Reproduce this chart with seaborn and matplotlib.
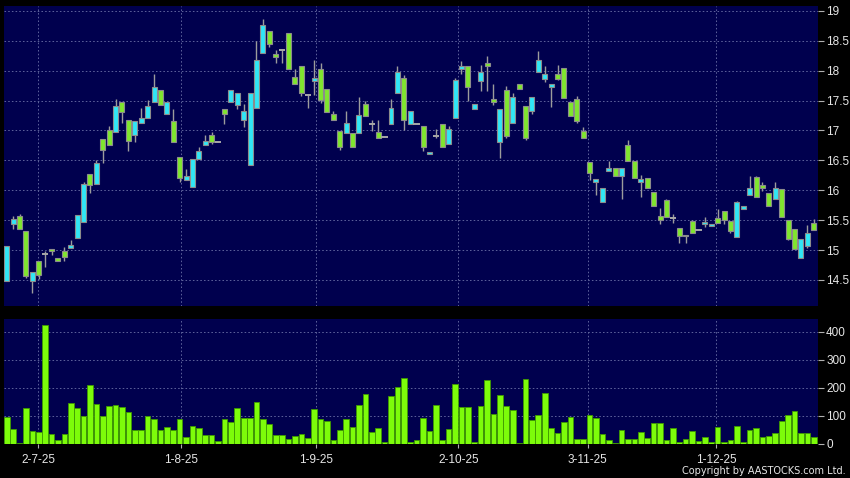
import matplotlib
matplotlib.use("Agg")
import matplotlib.pyplot as plt
import numpy as np
import pandas as pd
import seaborn as sns

# ---------------- data ----------------
opens = [14.49, 15.43, 15.57, 15.32, 14.49, 14.82, 14.94, 15.02, 14.86, 14.99,
         15.04, 15.21, 15.47, 16.27, 16.10, 16.85, 17.00, 16.98, 17.47, 17.17,
         16.92, 17.12, 17.20, 17.48, 17.68, 17.27, 17.15, 16.55, 16.17, 16.05,
         16.53, 16.75, 16.92, 16.81, 17.35, 17.47, 17.42, 17.18, 16.43, 17.37,
         18.30, 18.67, 18.28, 18.34, 18.63, 17.90, 18.07, 17.60, 17.82, 18.02,
         17.70, 17.27, 16.99, 16.96, 16.96, 16.95, 17.44, 17.10, 16.98, 16.89,
         17.10, 17.62, 17.87, 17.10, 17.10, 17.07, 16.60, 16.90, 17.10, 16.77,
         17.20, 18.02, 18.07, 17.35, 17.82, 18.13, 17.53, 16.80, 17.68, 17.13,
         17.78, 17.40, 17.33, 17.97, 17.86, 17.73, 17.94, 18.04, 17.47, 17.52,
         16.99, 16.48, 16.13, 15.80, 16.32, 16.38, 16.23, 16.75, 16.49, 16.13,
         16.20, 15.97, 15.57, 15.84, 15.53, 15.37, 15.23, 15.49, 15.33, 15.44,
         15.40, 15.53, 15.65, 15.48, 15.22, 15.69, 15.92, 16.22, 16.08, 15.95,
         15.85, 16.02, 15.50, 15.36, 14.86, 15.07, 15.45]
highs = [15.07, 15.57, 15.61, 15.32, 14.63, 14.82, 14.98, 15.02, 14.86, 15.05,
         15.17, 15.59, 16.14, 16.27, 16.51, 16.85, 17.07, 17.52, 17.47, 17.17,
         17.15, 17.38, 17.51, 17.94, 17.68, 17.47, 17.36, 16.55, 16.35, 16.53,
         16.72, 16.92, 16.97, 16.81, 17.35, 17.67, 17.63, 17.45, 17.63, 18.50,
         18.86, 18.67, 18.34, 18.34, 18.63, 18.02, 18.07, 17.60, 18.17, 18.13,
         17.70, 17.32, 16.99, 17.32, 16.96, 17.56, 17.50, 17.17, 17.17, 16.89,
         17.52, 18.08, 17.92, 17.33, 17.10, 17.07, 16.64, 17.02, 17.10, 17.07,
         17.88, 18.16, 18.07, 17.45, 18.09, 18.24, 17.77, 17.35, 17.74, 17.63,
         17.78, 17.40, 17.56, 18.33, 18.07, 17.78, 18.09, 18.04, 17.47, 17.57,
         17.06, 16.48, 16.19, 16.03, 16.49, 16.38, 16.38, 16.84, 16.49, 16.25,
         16.20, 15.97, 15.71, 15.86, 15.61, 15.37, 15.26, 15.51, 15.33, 15.55,
         15.43, 15.69, 15.65, 15.48, 15.82, 15.74, 16.23, 16.23, 16.14, 15.95,
         16.14, 16.02, 15.50, 15.36, 15.18, 15.42, 15.52]
lows = [14.49, 15.36, 15.36, 14.54, 14.29, 14.51, 14.71, 14.91, 14.82, 14.81,
        15.04, 15.21, 15.47, 15.96, 16.10, 16.46, 16.75, 16.98, 17.12, 16.66,
        16.81, 17.12, 17.20, 17.48, 17.42, 17.27, 16.80, 16.13, 16.17, 16.05,
        16.53, 16.75, 16.78, 16.81, 17.11, 17.47, 17.35, 17.06, 16.43, 17.37,
        18.30, 18.40, 18.13, 18.13, 18.03, 17.77, 17.57, 17.37, 17.59, 17.46,
        17.30, 17.17, 16.68, 16.96, 16.73, 16.95, 17.24, 16.99, 16.87, 16.89,
        17.10, 17.62, 17.00, 17.10, 17.10, 16.66, 16.60, 16.87, 16.72, 16.77,
        17.20, 17.95, 17.49, 17.35, 17.66, 17.66, 17.42, 16.54, 16.87, 17.13,
        17.70, 16.84, 17.27, 17.97, 17.81, 17.39, 17.84, 17.54, 17.24, 17.13,
        16.88, 16.17, 15.92, 15.80, 16.32, 16.24, 15.86, 16.49, 16.20, 15.89,
        16.03, 15.74, 15.43, 15.56, 15.46, 15.12, 15.11, 15.28, 15.33, 15.39,
        15.40, 15.46, 15.44, 15.28, 15.22, 15.69, 15.92, 15.88, 15.98, 15.73,
        15.85, 15.56, 15.16, 15.01, 14.86, 15.03, 15.34]
closes = [15.07, 15.52, 15.36, 14.56, 14.63, 14.59, 14.94, 14.98, 14.82, 14.88,
          15.09, 15.59, 16.11, 16.08, 16.46, 16.67, 16.75, 17.41, 17.31, 16.82,
          17.15, 17.21, 17.41, 17.73, 17.42, 17.47, 16.80, 16.20, 16.23, 16.53,
          16.65, 16.83, 16.81, 16.81, 17.27, 17.67, 17.63, 17.33, 17.63, 18.18,
          18.77, 18.45, 18.22, 18.34, 18.03, 17.77, 17.63, 17.60, 17.88, 17.51,
          17.30, 17.17, 16.73, 17.13, 16.73, 17.25, 17.24, 17.10, 16.87, 16.89,
          17.38, 17.98, 17.17, 17.33, 17.10, 16.72, 16.64, 16.90, 16.72, 17.03,
          17.85, 18.08, 17.73, 17.45, 17.98, 18.08, 17.47, 17.35, 16.91, 17.56,
          17.70, 16.87, 17.56, 18.17, 17.94, 17.78, 17.86, 17.54, 17.24, 17.16,
          16.88, 16.28, 16.19, 16.03, 16.38, 16.24, 16.38, 16.49, 16.20, 16.19,
          16.03, 15.74, 15.51, 15.56, 15.53, 15.23, 15.26, 15.28, 15.33, 15.47,
          15.43, 15.46, 15.50, 15.32, 15.80, 15.74, 16.03, 15.88, 16.04, 15.73,
          16.04, 15.56, 15.19, 15.01, 15.18, 15.28, 15.34]
volumes = [97, 53, 5, 128, 47, 43, 423, 34, 13, 37,
           147, 128, 98, 209, 144, 98, 135, 138, 132, 113,
           50, 50, 101, 89, 50, 59, 49, 88, 26, 64,
           56, 31, 31, 11, 89, 80, 127, 93, 93, 151,
           90, 72, 33, 32, 18, 28, 36, 23, 125, 89,
           82, 13, 49, 88, 62, 140, 178, 44, 56, 8,
           171, 203, 235, 6, 15, 93, 46, 139, 15, 52,
           214, 133, 131, 6, 134, 228, 107, 173, 136, 122,
           2, 230, 84, 103, 180, 56, 38, 80, 96, 18,
           18, 102, 94, 36, 13, 2, 49, 19, 17, 42,
           20, 75, 74, 14, 56, 6, 19, 46, 12, 24,
           6, 61, 7, 14, 63, 7, 50, 56, 24, 30,
           40, 83, 104, 119, 40, 38, 24]
date_labels = ["2-7-25", "1-8-25", "1-9-25", "2-10-25", "3-11-25", "1-12-25"]
date_label_pos = [4.93, 27.2, 48.3, 70.5, 90.7, 110.8]
price_ticks = [14.5, 15, 15.5, 16, 16.5, 17, 17.5, 18, 18.5, 19]
volume_ticks = [0, 100, 200, 300, 400]

# ---------------- styling ----------------
BG = "#00004e"
UP = "#30e6f6"
DOWN = "#80e62e"
VOL = "#7dfc0a"
GRID = "#5e639c"
TXT = "#e6e6e6"

sns.set_theme(style="dark")
plt.rcParams["font.family"] = ["Liberation Sans", "DejaVu Sans"]

df = pd.DataFrame({"idx": np.arange(len(opens)), "open": opens, "high": highs,
                   "low": lows, "close": closes, "volume": volumes})

fig = plt.figure(figsize=(8.5, 4.78), dpi=100, facecolor="black")
axp = fig.add_axes([4 / 850, 1 - 306 / 478, 813.7 / 850, 300 / 478])
axv = fig.add_axes([4 / 850, 1 - 444 / 478, 813.7 / 850, 124.7 / 478])

for ax in (axp, axv):
    ax.set_facecolor(BG)
    for s in ax.spines.values():
        s.set_visible(False)

# ---- candles ----
up = df[df.close > df.open]
dn = df[df.close < df.open]
dj = df[df.close == df.open]

axp.vlines(df.idx, df.low, df.high, color="#9c9c9c", lw=1.0, zorder=2)
axp.bar(up.idx, up.close - up.open, bottom=up.open, width=0.78,
        color=UP, edgecolor="#8c8c8c", linewidth=0.8, zorder=3)
axp.bar(dn.idx, dn.open - dn.close, bottom=dn.close, width=0.78,
        color=DOWN, edgecolor="#8c8c8c", linewidth=0.8, zorder=3)
axp.hlines(dj.close, dj.idx - 0.5, dj.idx + 0.5, color="#a8a8a8", lw=1.4, zorder=3)

xmin = (4 - 6.7) / 6.405
xmax = (817.7 - 6.7) / 6.405
axp.set_xlim(xmin, xmax)
axp.set_ylim(14.065, 19.08)
axp.set_yticks(price_ticks)
axp.set_yticklabels([f"{t:g}" for t in price_ticks])
axp.set_xticks(date_label_pos)
axp.tick_params(axis="x", length=0, labelbottom=False)

# ---- volume with seaborn ----
sns.barplot(data=df, x="idx", y="volume", native_scale=True, width=0.88,
            color=VOL, saturation=1, edgecolor="#3f9a00", linewidth=0.6,
            ax=axv, zorder=3)
axv.set_xlim(xmin, xmax)
axv.set_ylim(0, 444)
axv.set_yticks(volume_ticks)
axv.set_yticklabels([str(t) for t in volume_ticks])
axv.set_xticks(date_label_pos)
axv.set_xticklabels(date_labels)
axv.set_xlabel("")
axv.set_ylabel("")
axv.tick_params(axis="x", length=3, width=0.8, color="#b0b0b0", labelcolor=TXT,
                labelsize=8.5, pad=4, bottom=True)

for ax in (axp, axv):
    ax.yaxis.tick_right()
    ax.tick_params(axis="y", length=4, width=0.8, color="#b0b0b0", labelcolor=TXT,
                   labelsize=8.5, pad=2, right=True, left=False)
    ax.grid(True, color=GRID, linestyle=(0, (1.6, 2.2)), linewidth=0.7, zorder=0)
    ax.set_axisbelow(True)

fig.text(846 / 850, 1 - 471 / 478, "Copyright by AASTOCKS.com Ltd.", color=TXT,
         fontsize=7, ha="right", va="center", family=["DejaVu Sans"])

fig.savefig("out.png", dpi=100, facecolor="black")
